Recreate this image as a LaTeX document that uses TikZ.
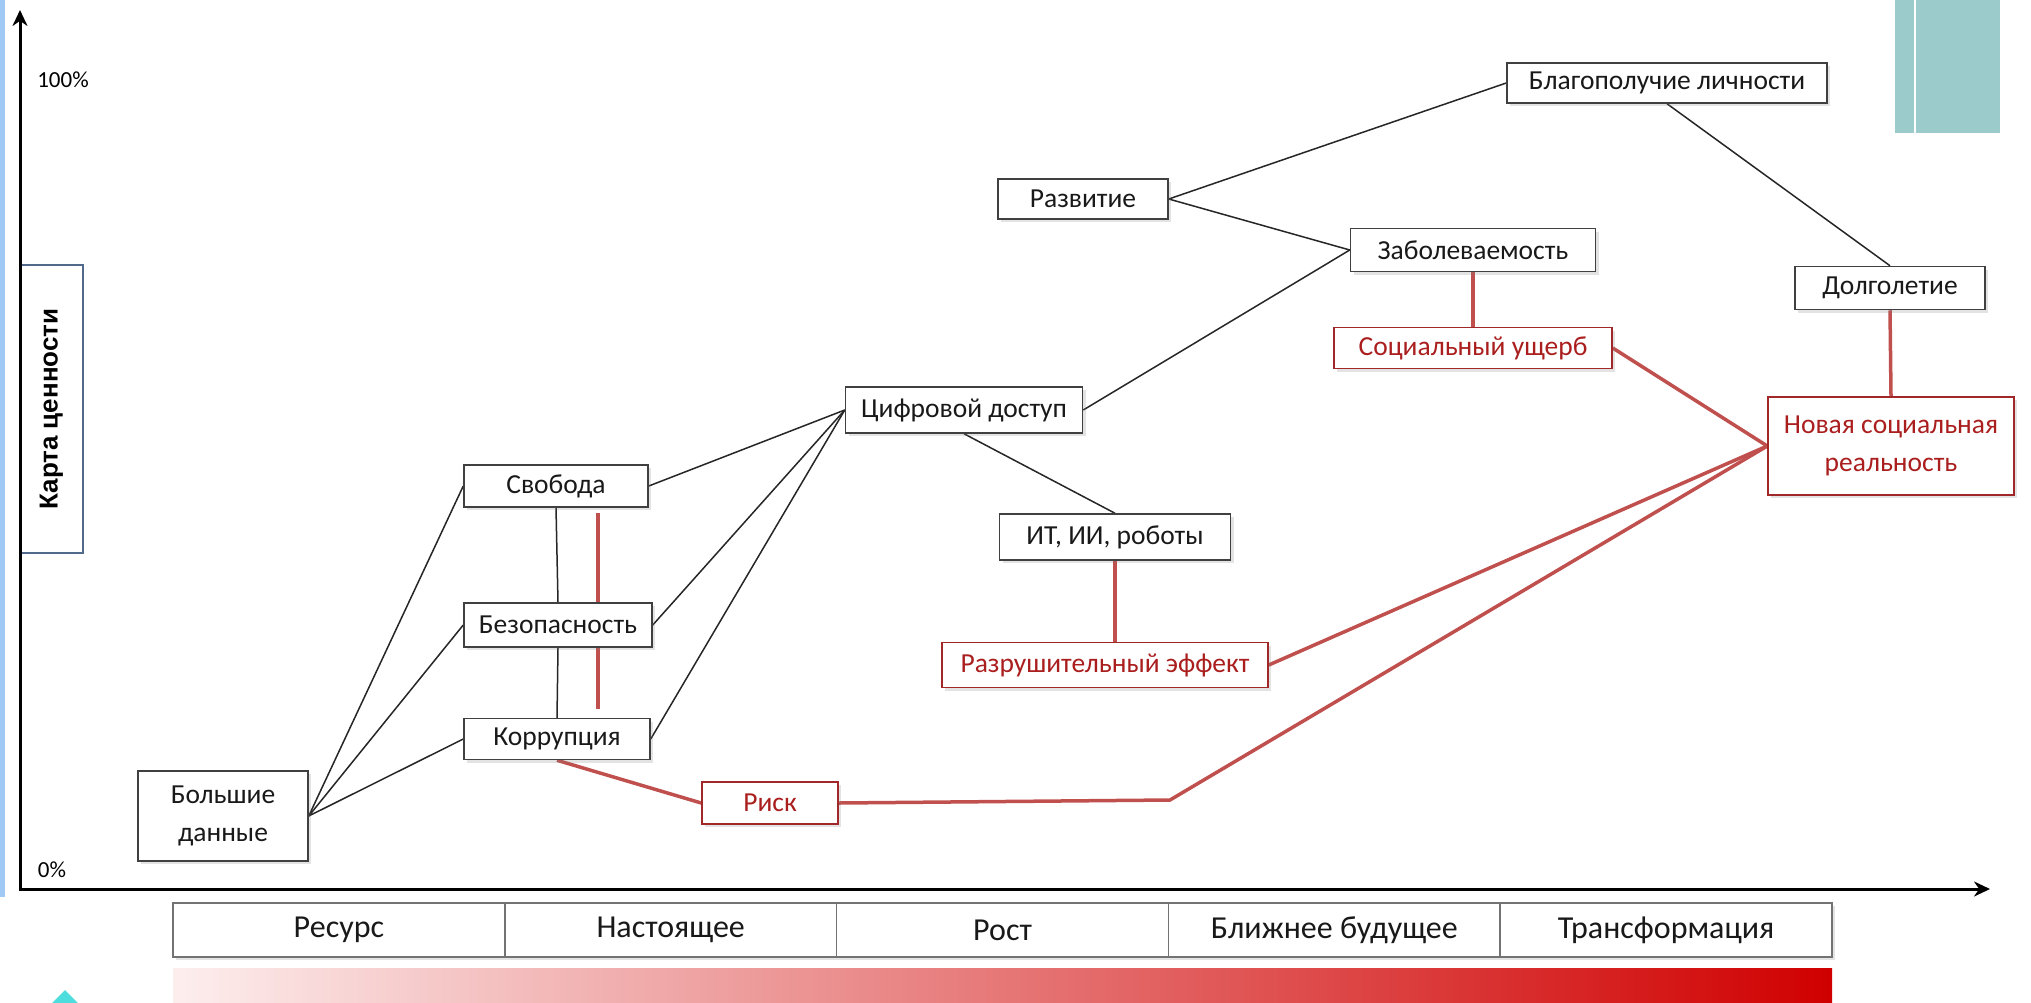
\documentclass[tikz,border=0pt]{standalone}
\usepackage{fontspec}
\setmainfont{Carlito}
\newfontfamily\arialfont{Liberation Sans}
\usetikzlibrary{shadows,arrows.meta}
\pgfdeclarelayer{background}
\pgfsetlayers{background,main}

\definecolor{boxgray}{RGB}{64,64,64}
\definecolor{riskred}{RGB}{192,80,77}
\definecolor{riskdark}{RGB}{160,40,40}
\definecolor{risktext}{RGB}{170,30,30}
\definecolor{tealbar}{RGB}{156,203,203}
\definecolor{leftblue}{RGB}{160,202,245}
\definecolor{mapblue}{RGB}{79,106,138}
\definecolor{cyanmark}{RGB}{77,221,221}
\definecolor{fadelight}{RGB}{253,238,238}
\definecolor{fademid}{RGB}{247,185,185}
\definecolor{fadedark}{RGB}{208,0,0}

\newcommand\boxfont{\fontsize{27.5}{38}\selectfont}
\newcommand\stagefont{\fontsize{32}{38}\selectfont}

\tikzset{
  box/.style={draw=boxgray, line width=1.5pt, fill=white, inner sep=0pt, align=center,
    font=\boxfont, text=black!90,
    drop shadow={shadow xshift=3pt, shadow yshift=-3pt, opacity=0.22}},
  riskbox/.style={box, draw=riskdark, text=risktext},
  stage/.style={box, draw=black!55, font=\stagefont, minimum width=331.8pt, minimum height=54pt},
  link/.style={line width=1.5pt, black!85},
  risklink/.style={line width=3.5pt, riskred, line join=round},
  axis/.style={line width=3pt, line join=miter},
}

\begin{document}
\begin{tikzpicture}[x=1pt,y=-1pt]
\useasboundingbox (0,0) rectangle (2031,1002);

% slide decoration
\fill[leftblue] (0,0) rectangle (5,897);
\fill[tealbar] (1895,0) rectangle (1914,133);
\fill[tealbar] (1916,0) rectangle (2000,133);
\begin{scope}
  \clip (0,0) rectangle (2031,1002);
  \fill[cyanmark] (65,990) -- (87,1012) -- (65,1034) -- (43,1012) -- cycle;
\end{scope}
\shade[left color=fadelight, middle color=fademid, right color=fadedark] (173,968) rectangle (1832,1002);

% value axis
\node (map) at (51.5,409) [draw=mapblue, line width=2pt, fill=white, rotate=90,
  minimum width=288pt, minimum height=63pt, font=\arialfont\bfseries\fontsize{26}{30}\selectfont] {Карта ценности};

\coordinate (origin) at (20,889);
\coordinate (ytop) at (20,10);
\coordinate (xend) at (1990,889);
\draw[axis, {Stealth[length=16pt,width=15pt]}-{Stealth[length=16pt,width=15pt]}] (ytop) -- (origin) -- (xend);

\node (full) at (63,80) [font=\fontsize{23}{28}\selectfont] {100\%};
\node (zero) at (52,870) [font=\fontsize{23}{28}\selectfont] {0\%};

% time line
\node (s1) at (338.9,930) [stage] {Ресурс};
\node (s2) at (670.7,930) [stage] {Настоящее};
\node (s3) at (1002.5,930) [stage] {Рост};
\node (s4) at (1334.3,930) [stage] {Ближнее будущее};
\node (s5) at (1666.1,930) [stage] {Трансформация};

% value nodes
\node (data) at (223,816) [box, minimum width=170pt, minimum height=90pt] {Большие\\данные};
\node (freedom) at (556,486) [box, minimum width=184pt, minimum height=42pt] {Свобода};
\node (safety) at (558,625) [box, minimum width=188pt, minimum height=44pt] {Безопасность};
\node (corrupt) at (557,739) [box, minimum width=186pt, minimum height=41pt] {Коррупция};
\node (access) at (964,410) [box, minimum width=237pt, minimum height=46pt] {Цифровой доступ};
\node (robots) at (1115,537) [box, minimum width=231pt, minimum height=46pt] {ИТ, ИИ, роботы};
\node (growth) at (1083,199) [box, minimum width=170pt, minimum height=40pt] {Развитие};
\node (illness) at (1473,250) [box, minimum width=245pt, minimum height=43pt] {Заболеваемость};
\node (welfare) at (1667,83) [box, minimum width=320pt, minimum height=40pt] {Благополучие личности};
\node (longlife) at (1890,288) [box, minimum width=190pt, minimum height=43pt] {Долголетие};

% risk nodes
\node (risk) at (770,803) [riskbox, minimum width=136pt, minimum height=42pt] {Риск};
\node (damage) at (1105,665) [riskbox, minimum width=326pt, minimum height=45pt] {Разрушительный эффект};
\node (harm) at (1473,348) [riskbox, minimum width=278pt, minimum height=41pt] {Социальный ущерб};
\node (reality) at (1891,446) [riskbox, minimum width=246pt, minimum height=98pt] {Новая социальная\\реальность};
\coordinate (kink) at (1170,800);

\begin{pgfonlayer}{background}
  \draw[link] (data.east) -- (freedom.west);
  \draw[link] (data.east) -- (safety.west);
  \draw[link] (data.east) -- (corrupt.west);
  \draw[link] (freedom.east) -- (access.west);
  \draw[link] (safety.east) -- (access.west);
  \draw[link] (corrupt.east) -- (access.west);
  \draw[link] (freedom.south) -- (safety.north);
  \draw[link] (safety.south) -- (corrupt.north);
  \draw[link] (access.east) -- (illness.west);
  \draw[link] (access.south) -- (robots.north);
  \draw[link] (growth.east) -- (welfare.west);
  \draw[link] (growth.east) -- (illness.west);
  \draw[link] (welfare.south) -- (longlife.north);

  \draw[risklink] ([xshift=42pt,yshift=-5pt]freedom.south) -- ([xshift=41pt,yshift=9pt]corrupt.north);
  \draw[risklink] (corrupt.south) -- (risk.west);
  \draw[risklink] (risk.east) -- (kink) -- (reality.west);
  \draw[risklink] (robots.south) -- (robots.south |- damage.north);
  \draw[risklink] (damage.east) -- (reality.west);
  \draw[risklink] (illness.south) -- (harm.north);
  \draw[risklink] (harm.east) -- (reality.west);
  \draw[risklink] (longlife.south) -- (reality.north);
\end{pgfonlayer}
\end{tikzpicture}
\end{document}
